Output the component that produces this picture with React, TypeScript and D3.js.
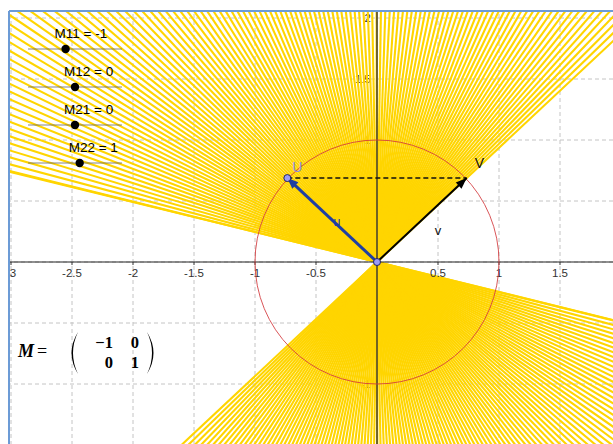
import React from 'react';
import * as d3 from 'd3';

const W = 613;
const H = 444;

// axis ticks and grid (data units)
const xTickValues = [-3, -2.5, -2, -1.5, -1, -0.5, 0.5, 1, 1.5];
const yTickValues = [2, 1.5, 1, 0.5, -0.5, -1];
const gridXValues = [-3, -2.5, -2, -1.5, -1, -0.5, 0, 0.5, 1, 1.5];
const gridYValues = [-1.5, -1, -0.5, 0, 0.5, 1, 1.5, 2];

// sliders
const sliderNames = ['M11', 'M12', 'M21', 'M22'];
const sliderValues = [-1, 0, 0, 1];
const sliderMins = [-5, -10, -10, -10];
const sliderMaxs = [5, 10, 10, 10];

// vector v on the unit circle
const vVector = [0.735, 0.688];

// traced lines through origin (degrees)
const traceStartDeg = 43.1;
const traceEndDeg = 166.2;
const traceStepDeg = 1;

// matrix display
const matrixRows = [
  ['\u22121', '0'],
  ['0', '1'],
];

export default function App() {
  const x = d3.scaleLinear().domain([-3, 1.5]).range([11, 560]);
  const y = d3.scaleLinear().domain([-1.5, 2]).range([445, 18]);
  const x0 = x(0);
  const y0 = y(0);
  const r = x(1) - x(0);

  const M = [
    [sliderValues[0], sliderValues[1]],
    [sliderValues[2], sliderValues[3]],
  ];
  const u = [
    M[0][0] * vVector[0] + M[0][1] * vVector[1],
    M[1][0] * vVector[0] + M[1][1] * vVector[1],
  ];

  const angles = d3.range(traceStartDeg, traceEndDeg + 0.001, traceStepDeg);
  const angleList = angles[angles.length - 1] < traceEndDeg - 0.01 ? [...angles, traceEndDeg] : angles;

  const sans = 'Arial, "Liberation Sans", sans-serif';
  const serif = '"Liberation Serif", "DejaVu Serif", serif';

  const sliderLineY = [49, 87, 125, 163];

  return (
    <svg
      width={W}
      height={H}
      viewBox={`0 0 ${W} ${H}`}
      style={{ position: 'fixed', left: 0, top: 0, background: '#fff' }}
    >
      <defs>
        <clipPath id="panel">
          <rect x={10} y={12} width={W - 10} height={H - 12} />
        </clipPath>
        <marker id="arrBlack" viewBox="-12 -5 13 10" refX={0} refY={0} markerWidth={13} markerHeight={10}
          markerUnits="userSpaceOnUse" orient="auto">
          <path d="M0,0 L-11,-4.2 L-11,4.2 Z" fill="#000" />
        </marker>
        <marker id="arrBlue" viewBox="-12 -5 13 10" refX={0} refY={0} markerWidth={13} markerHeight={10}
          markerUnits="userSpaceOnUse" orient="auto">
          <path d="M0,0 L-11,-4.5 L-11,4.5 Z" fill="#1F3FA3" />
        </marker>
      </defs>
      <rect x={0} y={0} width={W} height={H} fill="#fff" />
      <g clipPath="url(#panel)">
        {/* grid */}
        {gridXValues.map((gx) => (
          <line key={'gx' + gx} x1={x(gx)} x2={x(gx)} y1={0} y2={H} stroke="#c4c4c4" strokeWidth={1} strokeDasharray="4,3" />
        ))}
        {gridYValues.map((gy) => (
          <line key={'gy' + gy} x1={0} x2={W} y1={y(gy)} y2={y(gy)} stroke="#c4c4c4" strokeWidth={1} strokeDasharray="4,3" />
        ))}
        {/* y tick labels (beneath the traces) */}
        {yTickValues.map((t) => (
          <text key={'yt' + t} x={x0 - 6} y={y(t) + 4} fontFamily={sans} fontSize={11.5} fill="#333"
            textAnchor="end">
            {t < 0 ? '-' + Math.abs(t) : String(t)}
          </text>
        ))}
        {/* traced lines */}
        {angleList.map((a, i) => {
          const rad = (a * Math.PI) / 180;
          const c = Math.cos(rad) * 6;
          const s = Math.sin(rad) * 6;
          return (
            <line key={'tr' + i} x1={x(-c)} y1={y(-s)} x2={x(c)} y2={y(s)} stroke="#FFD500" strokeWidth={2.1} />
          );
        })}
        {/* x tick labels */}
        {xTickValues.map((t) => (
          <text key={'xt' + t} x={x(t)} y={y0 + 15} fontFamily={sans} fontSize={11.5} fill="#333" textAnchor="middle">
            {t < 0 ? '-' + Math.abs(t) : String(t)}
          </text>
        ))}
        {/* axes */}
        <line x1={0} x2={W} y1={y0} y2={y0} stroke="#222" strokeWidth={1.2} />
        <line x1={x0} x2={x0} y1={0} y2={H} stroke="#333" strokeWidth={1.4} />
        {xTickValues.map((t) => (
          <line key={'xtk' + t} x1={x(t)} x2={x(t)} y1={y0} y2={y0 + 3} stroke="#333" strokeWidth={1} />
        ))}
        {/* unit circle */}
        <circle cx={x0} cy={y0} r={r} fill="none" stroke="#D2383C" strokeWidth={1} strokeOpacity={0.85} />
        {/* dashed U-V */}
        <line x1={x(u[0])} y1={y(u[1])} x2={x(vVector[0])} y2={y(vVector[1])} stroke="#111" strokeWidth={1.6}
          strokeDasharray="5,3" />
        {/* vectors */}
        <line x1={x0} y1={y0} x2={x(vVector[0])} y2={y(vVector[1])} stroke="#000" strokeWidth={2}
          markerEnd="url(#arrBlack)" />
        <line x1={x0} y1={y0} x2={x(u[0])} y2={y(u[1])} stroke="#1F3FA3" strokeWidth={3}
          markerEnd="url(#arrBlue)" />
        {/* points */}
        <circle cx={x(u[0])} cy={y(u[1])} r={3.5} fill="#9C9CF5" stroke="#222266" strokeWidth={1} />
        <circle cx={x0} cy={y0} r={3.5} fill="#9C9CF5" stroke="#222266" strokeWidth={1} />
        {/* labels */}
        <text x={x(u[0]) + 5} y={y(u[1]) - 6} fontFamily={sans} fontSize={14} fill="#8A8AE0">U</text>
        <text x={x(vVector[0]) + 8} y={y(vVector[1]) - 10} fontFamily={sans} fontSize={14} fill="#111">V</text>
        <text x={x(u[0] / 2) + 1} y={y(u[1] / 2) + 6} fontFamily={sans} fontSize={13} fill="#1F3FA3">u</text>
        <text x={x(vVector[0] / 2) + 13} y={y(vVector[1] / 2) + 15} fontFamily={sans} fontSize={13} fill="#111">v</text>
        {/* sliders */}
        {sliderNames.map((name, i) => {
          const sx = d3.scaleLinear().domain([sliderMins[i], sliderMaxs[i]]).range([28, 122]);
          const ly = sliderLineY[i];
          const dx = sx(sliderValues[i]);
          return (
            <g key={name}>
              <line x1={28} x2={122} y1={ly} y2={ly} stroke="#666" strokeWidth={0.8} />
              <circle cx={dx} cy={ly} r={4.2} fill="#000" />
              <text x={dx - 11} y={ly - 11} fontFamily={sans} fontSize={13.5} fill="#000">
                {name} = {sliderValues[i]}
              </text>
            </g>
          );
        })}
        {/* matrix */}
        <text x={18} y={357} fontFamily={serif} fontStyle="italic" fontWeight="bold" fontSize={18} fill="#000">M</text>
        <text x={37} y={357} fontFamily={serif} fontSize={18} fill="#000">=</text>
        <path d="M78,332 Q65,353 78,374 Q68,353 78,332 Z" fill="#000" />
        <path d="M147,332 Q160,353 147,374 Q157,353 147,332 Z" fill="#000" />
        {matrixRows.map((row, ri) =>
          row.map((cell, ci) => (
            <text key={`m${ri}${ci}`} x={ci === 0 ? 113 : 139} y={348 + ri * 20} fontFamily={serif}
              fontSize={16.5} fontWeight="bold" fill="#000" textAnchor="end">
              {cell}
            </text>
          ))
        )}
      </g>
      {/* panel border */}
      <line x1={9} x2={9} y1={11} y2={H} stroke="#6C9BD6" strokeWidth={2} />
      <line x1={9} x2={W} y1={11} y2={11} stroke="#6C9BD6" strokeWidth={2} />
    </svg>
  );
}
